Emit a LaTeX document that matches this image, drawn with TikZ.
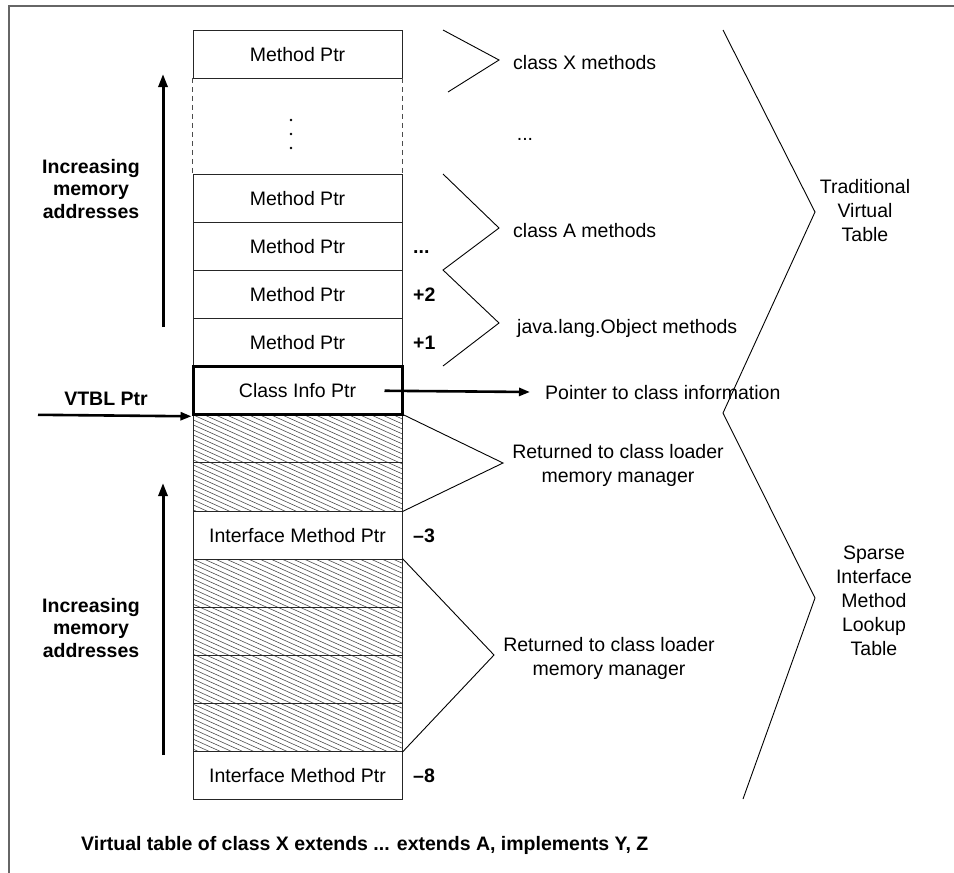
\documentclass[tikz,border=0pt]{standalone}
\usepackage{fontspec}
\setmainfont{Liberation Sans}
\usetikzlibrary{arrows.meta}
\begin{document}
\begin{tikzpicture}[x=1pt,y=-1pt,
  every node/.style={font=\fontsize{19.5}{24}\selectfont, inner sep=0pt, text height=14pt, text depth=0pt},
  cell/.style={draw=black!85, line width=1pt, minimum width=209pt, minimum height=48.1pt},
  infocell/.style={cell, draw=black, line width=3pt},
  gapcell/.style={minimum width=209pt, minimum height=96.2pt},
  sidedash/.style={draw=black!70, line width=1pt, dash pattern=on 5pt off 4pt},
  brace/.style={draw=black, line width=0.9pt, line join=miter},
  hatchline/.style={draw=black!70, line width=0.6pt},
  bigarrow/.style={line width=3pt, -{Triangle[length=13pt,width=9pt]}},
  ptrarrow/.style={line width=2.6pt, -{Triangle[length=11pt,width=8pt]}},
  offset/.style={anchor=west, font=\fontsize{19.5}{24}\selectfont\bfseries},
  note/.style={align=center, text height=, text depth=},
  boldnote/.style={note, font=\fontsize{19.5}{22.5}\selectfont\bfseries},
  label/.style={anchor=west},
]
\useasboundingbox (0,0) rectangle (954,873);

% outer frame (top and left edges)
\draw[black!60, line width=2pt] (954,6) -- (9,6) -- (9,873);

% hatched (released) slots
\foreach \ya/\yb in {414.8/511, 559.1/751.5} {
  \begin{scope}
    \clip (193,\ya) rectangle (402,\yb);
    \foreach \i in {-10,...,60}
      \draw[hatchline] (193,\ya+\i*5-100) -- ++(209,94);
  \end{scope}
}

% virtual table slots
\node[cell] (r0) at (297.5,54.05) {Method Ptr};
\node[gapcell] (gap) at (297.5,126.2) {};
\draw[sidedash] (gap.north west) -- (gap.south west);
\draw[sidedash] (gap.north east) -- (gap.south east);
\foreach \y in {120,134,148} \fill (291,\y) circle (1.3pt);
\node[cell] (r3) at (297.5,198.35) {Method Ptr};
\node[cell] (r4) at (297.5,246.45) {Method Ptr};
\node[cell] (r5) at (297.5,294.55) {Method Ptr};
\node[cell] (r6) at (297.5,342.65) {Method Ptr};
\node[cell] (r8) at (297.5,438.85) {};
\node[cell] (r9) at (297.5,486.95) {};
\node[cell] (r10) at (297.5,535.05) {Interface Method Ptr};
\node[cell] (r11) at (297.5,583.15) {};
\node[cell] (r12) at (297.5,631.25) {};
\node[cell] (r13) at (297.5,679.35) {};
\node[cell] (r14) at (297.5,727.45) {};
\node[cell] (r15) at (297.5,775.55) {Interface Method Ptr};
\node[infocell] (r7) at (297.5,390.75) {Class Info Ptr};

% slot offsets
\node[offset] (o4) at (413,246.45) {...};
\node[offset] (o5) at (413,294.55) {+2};
\node[offset] (o6) at (413,342.65) {+1};
\node[offset] (o10) at (413,535.05) {–3};
\node[offset] (o15) at (413,775.55) {–8};

% memory direction arrows
\node[boldnote] (inc1) at (91,189) {Increasing\\memory\\addresses};
\coordinate (inc1a) at (163,327);
\coordinate (inc1b) at (163,74);
\draw[bigarrow] (inc1a) -- (inc1b);
\node[boldnote] (inc2) at (91,628) {Increasing\\memory\\addresses};
\coordinate (inc2a) at (163,755);
\coordinate (inc2b) at (163,483);
\draw[bigarrow] (inc2a) -- (inc2b);

% VTBL pointer
\node[offset, anchor=center] (vtbl) at (106,398) {VTBL Ptr};
\coordinate (vtbl0) at (38,414.8);
\draw[ptrarrow] (vtbl0) -- (r7.south west);

% class info pointer
\node[label] (pci) at (545,392) {Pointer to class information};
\draw[ptrarrow] ([xshift=-19pt]r7.east) -- ([xshift=-15pt]pci.west);

% groups of methods
\draw[brace] (443,30) -- (499,60) -- (448,92);
\node[label] (cx) at (513,62) {class X methods};
\node (more) at (525,133) {...};
\draw[brace] (443,174) -- (499,228) -- (443,270) -- (499,323) -- (443,366);
\node[label] (ca) at (513,230) {class A methods};
\node[label] (jlo) at (517,326) {java.lang.Object methods};

% released slots
\draw[brace] (r8.north east) -- (503,463) -- (r9.south east);
\node[note] (ret1) at (618,465) {Returned to class loader\\memory manager};
\draw[brace] (r11.north east) -- (494,655) -- (r14.south east);
\node[note] (ret2) at (609,658) {Returned to class loader\\memory manager};

% table parts
\draw[brace] (723,30) -- (815,212) -- (723,413) -- (815,598) -- (743,799);
\node[note] (tvt) at (865,211) {Traditional\\Virtual\\Table};
\node[note] (simlt) at (874,601) {Sparse\\Interface\\Method\\Lookup\\Table};

% caption
\node[offset] (cap) at (81,843)
  {Virtual table of class X extends ... extends A, implements Y, Z};
\end{tikzpicture}
\end{document}
